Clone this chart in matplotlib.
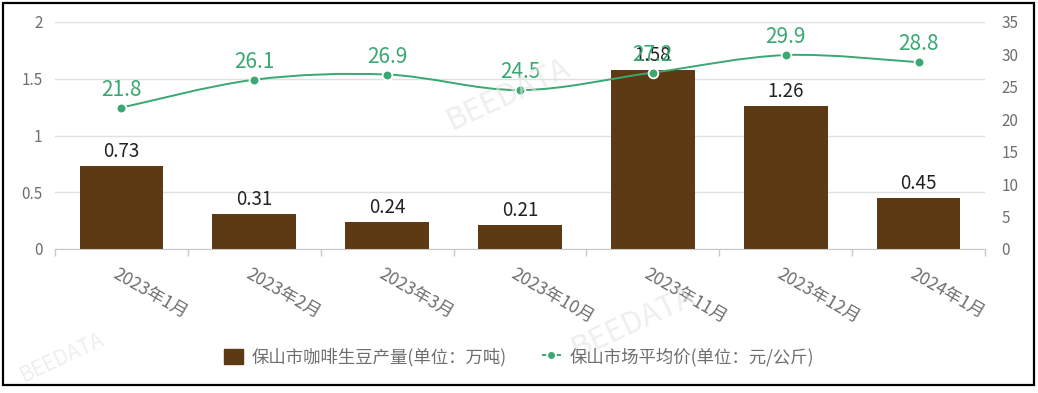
import matplotlib
matplotlib.use("Agg")
import matplotlib.pyplot as plt
from matplotlib.path import Path
from matplotlib.patches import PathPatch, Patch, Rectangle
from matplotlib.lines import Line2D

plt.rcParams['font.family'] = ['Noto Sans CJK SC', 'DejaVu Sans']

# ---- data ----
months = ['2023年1月', '2023年2月', '2023年3月', '2023年10月', '2023年11月', '2023年12月', '2024年1月']
output_wt = [0.73, 0.31, 0.24, 0.21, 1.58, 1.26, 0.45]       # 万吨
avg_price = [21.8, 26.1, 26.9, 24.5, 27.2, 29.9, 28.8]       # 元/公斤
left_ticks = [0, 0.5, 1, 1.5, 2]
left_tick_labels = ['0', '0.5', '1', '1.5', '2']
right_ticks = [0, 5, 10, 15, 20, 25, 30, 35]
bar_name = '保山市咖啡生豆产量(单位：万吨)'
line_name = '保山市场平均价(单位：元/公斤)'

BAR_C = '#5d3a14'
LINE_C = '#3aa872'
TXT_C = '#6e6e6e'
GRID_C = '#e0e0e0'

W, H = 1038, 393
fig = plt.figure(figsize=(W / 100, H / 100), dpi=100)
fig.patch.set_facecolor('white')

ax = fig.add_axes([55 / W, 1 - 249 / H, 930 / W, 227 / H])
ax2 = ax.twinx()

x = list(range(len(months)))
ax.bar(x, output_wt, width=0.63, color=BAR_C, zorder=2)
ax.set_xlim(-0.5, len(months) - 0.5)
ax.set_ylim(0, 2)
ax.set_yticks(left_ticks)
ax.set_yticklabels(left_tick_labels)
ax.yaxis.grid(True, color=GRID_C, linewidth=1.0, zorder=0)
ax.set_axisbelow(True)

for xi, v in zip(x, output_wt):
    ax.annotate(f'{v:.2f}', (xi, v), xytext=(0, 3), textcoords='offset points',
                ha='center', va='bottom', fontsize=13.5, color='#222222', zorder=5)

# smooth price curve through the data points (cubic Bezier segments)
pts = list(zip(x, avg_price))
verts = [pts[0]]
codes = [Path.MOVETO]
k = 0.5 / 3.0
for i in range(len(pts) - 1):
    p0 = pts[i - 1] if i > 0 else pts[i]
    p1 = pts[i]
    p2 = pts[i + 1]
    p3 = pts[i + 2] if i + 2 < len(pts) else pts[i + 1]
    c1 = (p1[0] + (p2[0] - p0[0]) * k, p1[1] + (p2[1] - p0[1]) * k)
    c2 = (p2[0] - (p3[0] - p1[0]) * k, p2[1] - (p3[1] - p1[1]) * k)
    verts += [c1, c2, p2]
    codes += [Path.CURVE4] * 3
ax2.add_patch(PathPatch(Path(verts, codes), facecolor='none', edgecolor=LINE_C,
                        linewidth=1.4, zorder=3))
ax2.plot(x, avg_price, linestyle='none', marker='o', markersize=7,
         markerfacecolor=LINE_C, markeredgecolor='white', markeredgewidth=1.3, zorder=4)
ax2.set_ylim(0, 35)
ax2.set_yticks(right_ticks)
for xi, v in zip(x, avg_price):
    ax2.annotate(f'{v:.1f}', (xi, v), xytext=(0, 5), textcoords='offset points',
                 ha='center', va='bottom', fontsize=15, color=LINE_C, zorder=5)

# axes styling
for a in (ax, ax2):
    for s in ('top', 'left', 'right'):
        a.spines[s].set_visible(False)
    a.spines['bottom'].set_color('#c8c8c8')
    a.tick_params(axis='y', length=0, labelsize=11, labelcolor=TXT_C)
ax2.spines['bottom'].set_visible(False)
ax.tick_params(axis='y', pad=9)
ax2.tick_params(axis='y', pad=12)

ax.set_xticks([i - 0.5 for i in range(len(months) + 1)])
ax.set_xticklabels([])
ax.tick_params(axis='x', length=5, color='#c8c8c8', width=1)
for xi, lab in zip(x, months):
    ax.text(xi - 0.02, -0.07, lab, transform=ax.get_xaxis_transform(), rotation=-30,
            rotation_mode='anchor', ha='left', va='top', fontsize=12.5, color=TXT_C)

# faint watermarks
for (wx, wy, fs) in [(0.49, 0.76, 22), (0.61, 0.18, 22), (0.06, 0.09, 15)]:
    fig.text(wx, wy, 'BEEDATA', fontsize=fs, color='#e4e4e4', alpha=0.6,
             rotation=25, ha='center', va='center', zorder=0)

# legend
handles = [Patch(facecolor=BAR_C, edgecolor=BAR_C),
           Line2D([0], [0], color=LINE_C, linestyle=(0, (2.2, 1.6)), linewidth=1.4,
                  marker='o', markersize=6, markerfacecolor=LINE_C,
                  markeredgecolor='white', markeredgewidth=1)]
fig.legend(handles, [bar_name, line_name], loc='center', ncol=2,
           bbox_to_anchor=(0.5, 1 - 357 / H), frameon=False, fontsize=12.5,
           labelcolor=TXT_C, handlelength=1.1, handleheight=1.0, handletextpad=0.5,
           columnspacing=2.0)

# outer frame
fig.add_artist(Rectangle((3 / W, 1 - 385 / H), 1031 / W, 382 / H, transform=fig.transFigure,
                         fill=False, edgecolor='black', linewidth=1.6))

fig.savefig('out.png', dpi=100, facecolor='white')
